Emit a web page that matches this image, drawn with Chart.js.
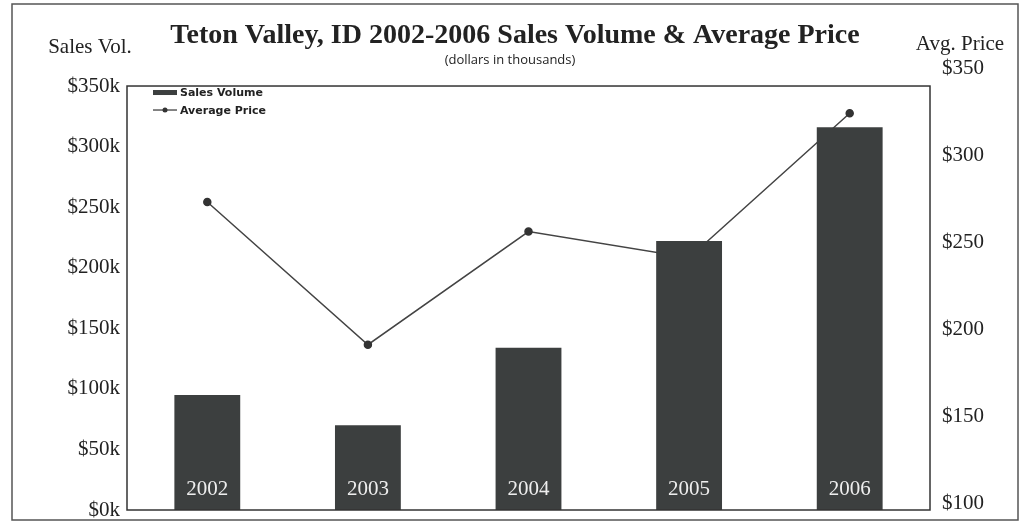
<!DOCTYPE html>
<html>
<head>
<meta charset="utf-8">
<script src="https://cdn.jsdelivr.net/npm/chart.js@4.4.1/dist/chart.umd.min.js"></script>
<style>
  html, body { margin: 0; padding: 0; background: #fff; }
  #wrap { width: 1021px; height: 522px; position: relative; }
</style>
</head>
<body>
<div id="wrap"><canvas id="tetonChart" width="1021" height="522"></canvas></div>
<script>
// --- data ---
const years = ['2002', '2003', '2004', '2005', '2006'];
const salesVolume = [95, 70, 134, 222, 316];          // $ thousands (left axis)
const avgPrice = [273, 191, 256, 241, 324];           // $ thousands (right axis)
const volTicks = [0, 50, 100, 150, 200, 250, 300, 350];
const priceTicks = [100, 150, 200, 250, 300, 350];

const INK = '#222';
const BAR = '#3c3f3f';
const SERIF = '"Liberation Serif", "DejaVu Serif", serif';
const SANS = '"Open Sans", "Liberation Sans", sans-serif';

// y scales: fixed width, no extra room for half-labels
function fixAxis(width) {
    return s => {
        s.width = width;
        s.paddingTop = 0;
        s.paddingBottom = 0;
    };
}

// titles, frame, legend and year labels inside the bars
const decor = {
    id: 'decor',
    beforeDraw(chart) {
        const c = chart.ctx;
        c.save();
        c.fillStyle = '#fff';
        c.fillRect(0, 0, chart.width, chart.height);
        c.strokeStyle = '#555';
        c.lineWidth = 1.5;
        c.strokeRect(12, 4, 1006, 516);
        c.restore();
    },
    afterDatasetsDraw(chart) {
        const c = chart.ctx;
        const a = chart.chartArea;
        const yL = chart.scales.y;
        const x = chart.scales.x;
        const top = yL.getPixelForValue(350);
        c.save();

        // plot frame
        c.strokeStyle = '#333';
        c.lineWidth = 1.5;
        c.strokeRect(a.left, top, a.right - a.left, a.bottom - top);

        // title
        c.fillStyle = INK;
        c.textAlign = 'center';
        c.textBaseline = 'alphabetic';
        c.font = 'bold 28px ' + SERIF;
        c.fillText('Teton Valley, ID 2002-2006 Sales Volume & Average Price', 515, 43);
        c.font = '13px ' + SANS;
        c.textBaseline = 'middle';
        c.fillText('(dollars in thousands)', 510, 60);

        // axis captions
        c.font = '21px ' + SERIF;
        c.fillText('Sales Vol.', 90, 47);
        c.fillText('Avg. Price', 960, 44);

        // years inside bars
        c.fillStyle = '#eee';
        c.font = '21px ' + SERIF;
        c.textBaseline = 'middle';
        years.forEach((yr, i) => {
            c.fillText(yr, x.getPixelForValue(i), a.bottom - 21);
        });

        // legend
        const lx = a.left + 26, ly = top + 5;
        c.fillStyle = BAR;
        c.fillRect(lx, ly - 1, 24, 5);
        c.strokeStyle = '#333';
        c.lineWidth = 1.2;
        c.beginPath();
        c.moveTo(lx, ly + 19);
        c.lineTo(lx + 24, ly + 19);
        c.stroke();
        c.fillStyle = '#333';
        c.beginPath();
        c.arc(lx + 12, ly + 19, 2.5, 0, Math.PI * 2);
        c.fill();
        c.fillStyle = INK;
        c.textAlign = 'left';
        c.textBaseline = 'middle';
        c.font = 'bold 11px "DejaVu Sans", sans-serif';
        c.fillText('Sales Volume', lx + 27, ly + 2);
        c.fillText('Average Price', lx + 27, ly + 20);
        c.restore();
    }
};

new Chart(document.getElementById('tetonChart'), {
    data: {
        labels: years,
        datasets: [
            {
                type: 'bar',
                label: 'Sales Volume',
                data: salesVolume,
                yAxisID: 'y',
                backgroundColor: BAR,
                borderWidth: 0,
                barPercentage: 0.41,
                categoryPercentage: 1.0,
                order: 1
            },
            {
                type: 'line',
                label: 'Average Price',
                data: avgPrice,
                yAxisID: 'y1',
                borderColor: '#444',
                borderWidth: 1.5,
                pointRadius: 3.5,
                pointBackgroundColor: '#333',
                pointBorderColor: '#333',
                tension: 0,
                order: 2
            }
        ]
    },
    options: {
        responsive: false,
        animation: false,
        devicePixelRatio: 1,
        layout: { padding: { top: 63, bottom: 12, left: 0, right: 0 } },
        plugins: { legend: { display: false }, tooltip: { enabled: false } },
        scales: {
            x: { display: false, offset: true },
            y: {
                position: 'left',
                min: 0,
                max: 369,
                afterBuildTicks: s => { s.ticks = volTicks.map(v => ({ value: v })); },
                afterFit: fixAxis(127),
                grid: { display: false, drawTicks: false },
                border: { display: false },
                ticks: {
                    autoSkip: false,
                    color: INK,
                    padding: 7,
                    font: { family: SERIF, size: 21 },
                    callback: v => '$' + v + 'k'
                }
            },
            y1: {
                position: 'right',
                min: 96,
                max: 352.9,
                afterBuildTicks: s => { s.ticks = priceTicks.map(v => ({ value: v })); },
                afterFit: fixAxis(91),
                grid: { display: false, drawTicks: false },
                border: { display: false },
                ticks: {
                    autoSkip: false,
                    color: INK,
                    padding: 12,
                    font: { family: SERIF, size: 21 },
                    callback: v => '$' + v
                }
            }
        }
    },
    plugins: [decor]
});
</script>
</body>
</html>
